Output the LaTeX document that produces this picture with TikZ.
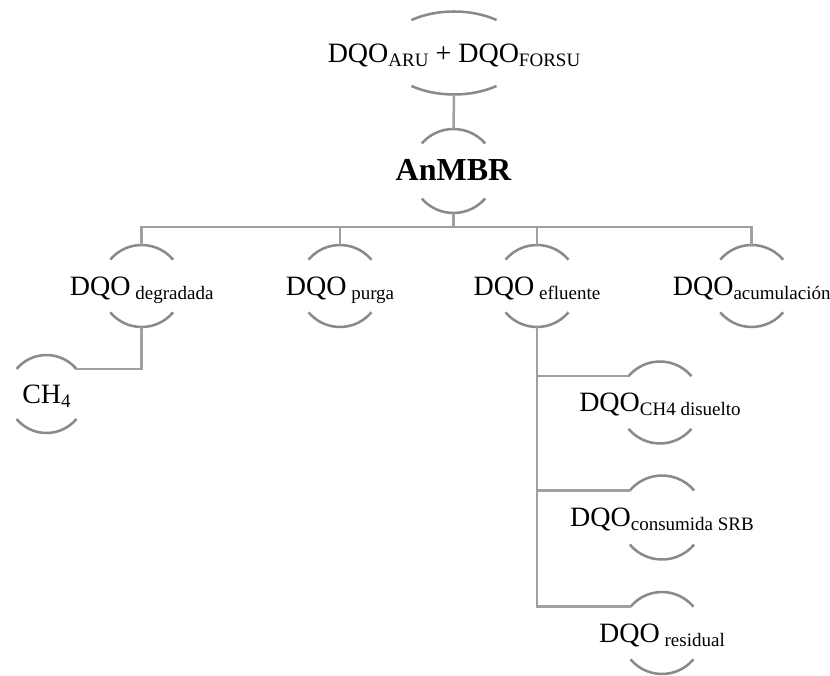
\documentclass[tikz,border=0pt]{standalone}
\usepackage{fontspec}
\setmainfont{Liberation Serif}
\usetikzlibrary{calc}
\definecolor{arcgray}{RGB}{138,138,138}
\definecolor{linegray}{RGB}{160,160,160}
\newcommand{\lo}[1]{\raisebox{-3pt}{\fontsize{14.25}{16}\selectfont #1}}
\tikzset{
  lbl/.style={inner sep=0pt, text height=19.9pt, text depth=6pt, font=\fontsize{21}{25}\selectfont},
  arcline/.style={draw=arcgray, line width=1.9pt},
  conn/.style={draw=linegray, line width=1.9pt},
}
% name, (x,y), x radius, y radius, angle, text
\newcommand{\bubble}[6]{%
  \node[lbl] (#1) at (#2) {#6};
  \pgfmathsetmacro\angB{180-#5}%
  \pgfmathsetmacro\angC{-180+#5}%
  \draw[arcline] ([shift={(#5:#3 and #4)}]#1.center) arc[start angle=#5, end angle=\angB, x radius=#3, y radius=#4];
  \draw[arcline] ([shift={(-#5:#3 and #4)}]#1.center) arc[start angle=-#5, end angle=\angC, x radius=#3, y radius=#4];
  \coordinate (#1-n) at ([shift={(0,#4)}]#1.center);
  \coordinate (#1-s) at ([shift={(0,-#4)}]#1.center);
  \coordinate (#1-nw) at ([shift={(\angB:#3 and #4)}]#1.center);
  \coordinate (#1-ne) at ([shift={(#5:#3 and #4)}]#1.center);
}
\begin{document}
\begin{tikzpicture}[x=0.75pt, y=0.75pt]
\useasboundingbox (0,0) rectangle (830,675);
\bubble{top}{454,622}{70}{41.5}{52.6}{DQO\lo{ARU} + DQO\lo{FORSU}}
\bubble{anmbr}{453.5,504}{42}{42}{41}{\fontsize{24}{28}\selectfont\bfseries AnMBR}
\bubble{deg}{141.7,389}{41}{41}{40}{DQO\lo{ degradada}}
\bubble{purga}{340,389}{41}{41}{40}{DQO\lo{ purga}}
\bubble{eflu}{537,389}{41}{41}{40}{DQO\lo{ efluente}}
\bubble{acum}{751.7,389}{41}{41}{40}{DQO\lo{acumulación}}
\bubble{ch4}{46.5,281}{39}{39}{40}{CH\lo{4}}
\bubble{disu}{660,272.5}{41}{41}{40}{DQO\lo{CH4 disuelto}}
\bubble{cons}{662,157.5}{42}{42}{40}{DQO\lo{consumida SRB}}
\bubble{resid}{662,42}{41}{41}{40}{DQO\lo{ residual}}
% connectors
\draw[conn] (top-s) -- (anmbr-n);
\coordinate (bus) at ($(anmbr-s)+(0,-14)$);
\draw[conn] (anmbr-s) -- (bus);
\draw[conn] (deg-n) -- (deg-n |- bus) -- (acum-n |- bus) -- (acum-n);
\draw[conn] (purga-n) -- (purga-n |- bus);
\draw[conn] (eflu-n) -- (eflu-n |- bus);
\draw[conn] (deg-s) |- (ch4-ne);
\draw[conn] (eflu-s) -- (eflu-s |- resid-nw) -- (resid-nw);
\draw[conn] (eflu-s |- disu-nw) -- (disu-nw);
\draw[conn] (eflu-s |- cons-nw) -- (cons-nw);
\end{tikzpicture}
\end{document}
